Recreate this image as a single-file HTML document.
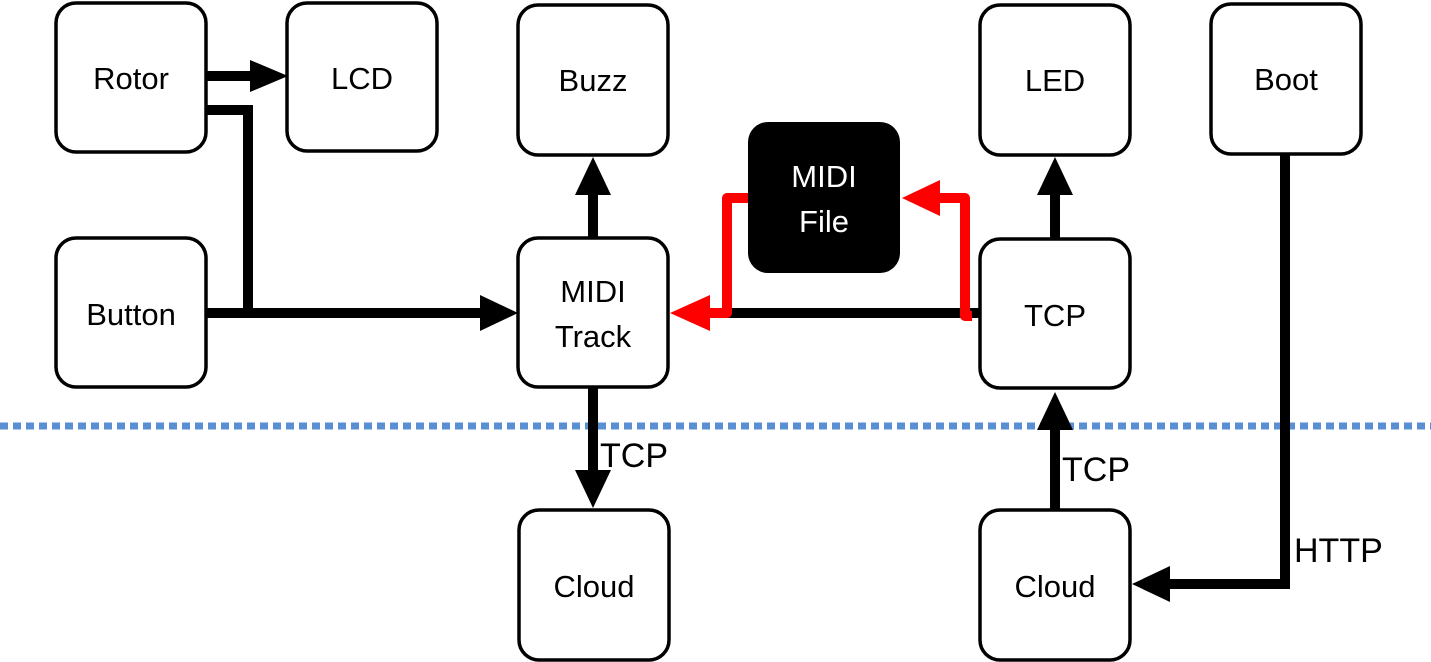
<!DOCTYPE html>
<html><head><meta charset="utf-8"><style>
html,body{margin:0;padding:0;background:#fff;}
svg{display:block;}
text{font-family:"Liberation Sans",sans-serif;}
</style></head><body>
<svg width="1431" height="662" viewBox="0 0 1431 662" xmlns="http://www.w3.org/2000/svg">
<line x1="0" y1="426" x2="1431" y2="426" stroke="#5b8fd4" stroke-width="7" stroke-dasharray="8,5"/>
<g fill="none" stroke="#000" stroke-width="10">
<polyline points="206,76 252,76"/>
<polyline points="206,110 248,110 248,313"/>
<polyline points="206,313 482,313"/>
<polyline points="593,238 593,193"/>
<polyline points="593,387 593,472"/>
<polyline points="980,313 712,313"/>
<polyline points="1055,239 1055,193"/>
<polyline points="1055,510 1055,428"/>
<polyline points="1285,154 1285,584 1168,584"/>
</g>
<g fill="none" stroke="#f00" stroke-width="10" stroke-linejoin="round">
<polyline points="972,316 965,316 965,198 938,198"/>
<polyline points="748,198 727,198 727,313 708,313"/>
</g>
<g fill="#000">
<polygon points="250,60 288,76 250,92"/>
<polygon points="480,295 518,313 480,331"/>
<polygon points="575,195 593,157 611,195"/>
<polygon points="575,470 593,508 611,470"/>
<polygon points="1037,195 1055,157 1073,195"/>
<polygon points="1037,430 1055,392 1073,430"/>
<polygon points="1170,566 1132,584 1170,602"/>
</g>
<g fill="#f00">
<polygon points="940,180 902,198 940,216"/>
<polygon points="710,295 670,313 710,331"/>
</g>
<g fill="#fff" stroke="#000" stroke-width="3.5">
<rect x="56" y="3" width="150" height="149" rx="20"/>
<rect x="287" y="3" width="150" height="148" rx="20"/>
<rect x="518" y="5" width="150" height="150" rx="20"/>
<rect x="980" y="5" width="150" height="150" rx="20"/>
<rect x="1211" y="4" width="150" height="150" rx="20"/>
<rect x="56" y="238" width="150" height="149" rx="20"/>
<rect x="518" y="238" width="150" height="149" rx="20"/>
<rect x="980" y="239" width="150" height="149" rx="20"/>
<rect x="519" y="510" width="150" height="150" rx="20"/>
<rect x="980" y="510" width="150" height="150" rx="20"/>
</g>
<rect x="748" y="122" width="152" height="151" rx="20" fill="#000"/>
<g font-size="31" text-anchor="middle" fill="#000">
<text x="131" y="89">Rotor</text>
<text x="362" y="89">LCD</text>
<text x="593" y="91">Buzz</text>
<text x="1055" y="91">LED</text>
<text x="1286" y="90">Boot</text>
<text x="131" y="325">Button</text>
<text x="593" y="302">MIDI</text>
<text x="593" y="347">Track</text>
<text x="1055" y="326">TCP</text>
<text x="594" y="597">Cloud</text>
<text x="1055" y="597">Cloud</text>
<text x="824" y="187" fill="#fff">MIDI</text>
<text x="824" y="232" fill="#fff">File</text>
</g>
<g font-size="34" fill="#000">
<text x="600" y="467">TCP</text>
<text x="1062" y="481">TCP</text>
<text x="1294" y="562">HTTP</text>
</g>
</svg>
</body></html>
